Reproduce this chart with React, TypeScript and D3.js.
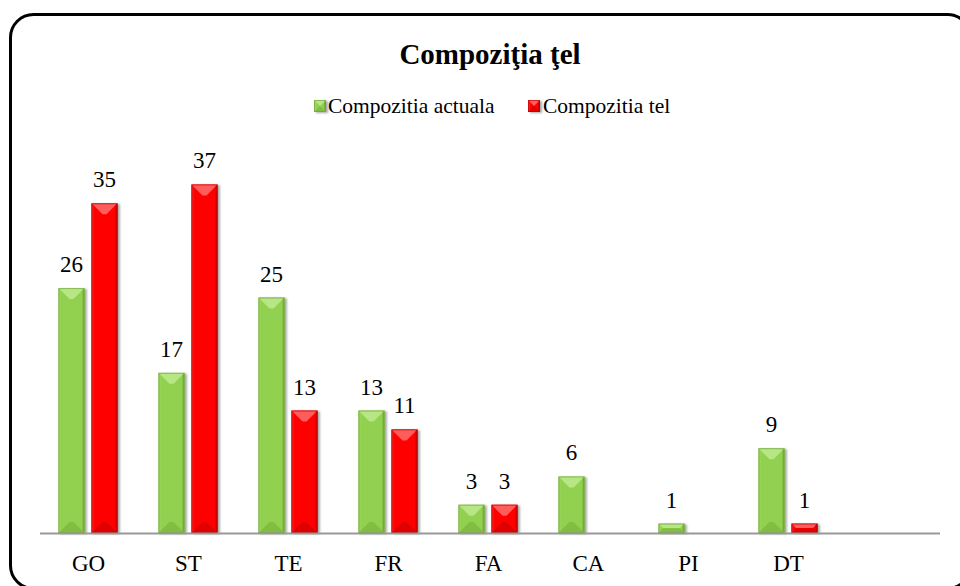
import React from "react";
import * as d3 from "d3";

const categories = ["GO", "ST", "TE", "FR", "FA", "CA", "PI", "DT", ""];
const actuala = [26, 17, 25, 13, 3, 6, 1, 9, null];
const tel = [35, 37, 13, 11, 3, null, null, 1, null];
const seriesNames = ["Compozitia actuala", "Compozitia tel"];

const W = 960;
const H = 586;
const FONT = "'Liberation Serif', 'Times New Roman', serif";

type Pal = { main: string; top: string; bottom: string; left: string; right: string; stroke: string };
const green: Pal = { main: "#92d050", top: "#b7e684", bottom: "#80bd40", left: "#9cd85c", right: "#78b23a", stroke: "#6f9a3c" };
const red: Pal = { main: "#ff0000", top: "#ff5c5c", bottom: "#e00000", left: "#ff1a1a", right: "#d40000", stroke: "#b00000" };

function BevelBar({ x, y, w, h, pal }: { x: number; y: number; w: number; h: number; pal: Pal }) {
  const b = Math.min(w / 2, h / 2, 11);
  const pts = (arr: number[][]) => arr.map((p) => p.join(",")).join(" ");
  return (
    <g filter="url(#shadow)">
      <rect x={x} y={y} width={w} height={h} fill={pal.main} />
      <polygon points={pts([[x, y], [x + w, y], [x + w - b, y + b], [x + b, y + b]])} fill={pal.top} />
      <polygon points={pts([[x, y + h], [x + w, y + h], [x + w - b, y + h - b], [x + b, y + h - b]])} fill={pal.bottom} />
      <polygon points={pts([[x, y], [x + 2, y + 2], [x + 2, y + h - 2], [x, y + h]])} fill={pal.left} />
      <polygon points={pts([[x + w, y], [x + w - 2, y + 2], [x + w - 2, y + h - 2], [x + w, y + h]])} fill={pal.right} />
      <rect x={x + 0.5} y={y + 0.5} width={w - 1} height={h - 1} fill="none" stroke={pal.stroke} strokeWidth={1} strokeOpacity={0.6} />
    </g>
  );
}

export default function App() {
  const keys = categories.map((c, i) => c + "_" + i);
  const x = d3.scaleBand<string>().domain(keys).range([40, 940]).padding(0);
  const y = d3.scaleLinear().domain([0, 40]).range([533, 533 - 9.42 * 40]);
  const barW = 26;

  return (
    <svg width={W} height={H} style={{ position: "absolute", left: 0, top: 0 }}>
      <defs>
        <filter id="shadow" x="-30%" y="-10%" width="160%" height="130%">
          <feDropShadow dx="2" dy="1" stdDeviation="1.2" floodColor="#000" floodOpacity="0.35" />
        </filter>
      </defs>
      <rect x={0} y={0} width={W} height={H} fill="#fff" />
      <rect x={10.5} y={14.5} width={960} height={574} rx={23} ry={23} fill="#fff" stroke="#000" strokeWidth={3} />
      <text x={490} y={64} textAnchor="middle" fontFamily={FONT} fontSize={29} fontWeight="bold">Compoziţia ţel</text>

      {/* legend */}
      <g fontFamily={FONT} fontSize={21.5}>
        <g transform="translate(314,100)">
          <BevelBar x={0} y={0} w={12} h={12} pal={green} />
        </g>
        <text x={328} y={113}>{seriesNames[0]}</text>
        <g transform="translate(528,100)">
          <BevelBar x={0} y={0} w={12} h={12} pal={red} />
        </g>
        <text x={543} y={113}>{seriesNames[1]}</text>
      </g>

      {/* bars */}
      {keys.map((k, i) => {
        const c = (x(k) as number) + 48.5;
        const els: React.ReactNode[] = [];
        const a = actuala[i];
        const t = tel[i];
        if (a != null) {
          const top = y(a);
          els.push(<BevelBar key={"a" + i} x={c - 30} y={top} w={barW} h={y(0) - top} pal={green} />);
          els.push(
            <text key={"al" + i} x={c - 17} y={top - 16} textAnchor="middle" fontFamily={FONT} fontSize={23}>{a}</text>
          );
        }
        if (t != null) {
          const top = y(t);
          els.push(<BevelBar key={"t" + i} x={c + 3} y={top} w={barW} h={y(0) - top} pal={red} />);
          els.push(
            <text key={"tl" + i} x={c + 16} y={top - 16} textAnchor="middle" fontFamily={FONT} fontSize={23}>{t}</text>
          );
        }
        return <g key={k}>{els}</g>;
      })}

      {/* axis */}
      <line x1={40} x2={940} y1={y(0) + 0.5} y2={y(0) + 0.5} stroke="#999" strokeWidth={2} />
      {keys.map((k, i) => (
        <text key={"c" + k} x={(x(k) as number) + 48.5} y={571} textAnchor="middle" fontFamily={FONT} fontSize={23}>
          {categories[i]}
        </text>
      ))}
    </svg>
  );
}
